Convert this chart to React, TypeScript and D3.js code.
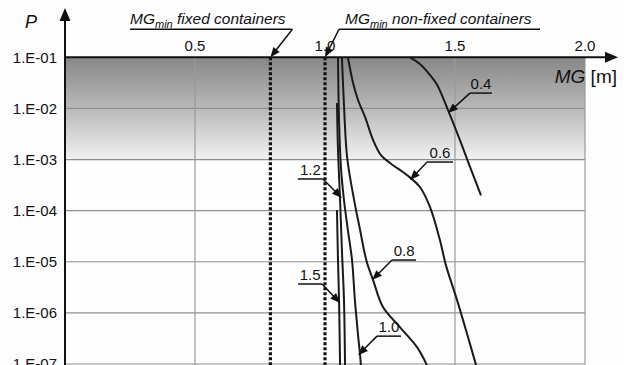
import React from 'react';
import * as d3 from 'd3';

const W = 624;
const H = 365;

// axis ticks
const yTicks = [1e-1, 1e-2, 1e-3, 1e-4, 1e-5, 1e-6, 1e-7];
const yTickLabels = ['1.E-01', '1.E-02', '1.E-03', '1.E-04', '1.E-05', '1.E-06', '1.E-07'];
const xTicks = [0.5, 1.0, 1.5, 2.0];
const xTickLabels = ['0.5', '1.0', '1.5', '2.0'];
const xGrid = [0.5, 1.5, 2.0];

// series (MG [m], P)
const mg04 = [1.327, 1.365, 1.404, 1.431, 1.473, 1.519, 1.558, 1.600];
const p04 = [1e-1, 7.4e-2, 4.5e-2, 2.9e-2, 9.3e-3, 2.4e-3, 7.1e-4, 2.0e-4];

const mg06 = [1.088, 1.108, 1.127, 1.154, 1.185, 1.215, 1.250, 1.315, 1.365, 1.404, 1.442, 1.465, 1.508, 1.550, 1.581];
const p06 = [1e-1, 3.14e-2, 1.46e-2, 6.8e-3, 2.41e-3, 1.22e-3, 8.55e-4, 4.98e-4, 2.9e-4, 1.17e-4, 2.66e-5, 8.6e-6, 1.78e-6, 3.36e-7, 9.5e-8];

const mg08 = [1.065, 1.073, 1.085, 1.112, 1.135, 1.150, 1.162, 1.185, 1.223, 1.288, 1.354, 1.392];
const p08 = [1e-1, 1.17e-2, 1.12e-3, 1.61e-4, 4.17e-5, 1.69e-5, 9.4e-6, 4.39e-6, 1.30e-6, 5.27e-7, 2.14e-7, 9.5e-8];

const mg10 = [1.050, 1.054, 1.062, 1.073, 1.088, 1.104, 1.115, 1.127, 1.135, 1.138];
const p10 = [1e-1, 5.9e-3, 6.2e-4, 1.61e-4, 4.17e-5, 1.08e-5, 1.78e-6, 3.7e-7, 1.49e-7, 9.5e-8];

const mg12 = [1.046, 1.050, 1.058, 1.065, 1.073, 1.077];
const p12 = [1.28e-2, 1.53e-3, 1.61e-4, 1.69e-5, 1.78e-6, 9.5e-8];

const mg15 = [1.046, 1.050, 1.054, 1.058];
const p15 = [1.03e-4, 1.08e-5, 1.78e-6, 9.5e-8];

const seriesMG = [mg04, mg06, mg08, mg10, mg12, mg15];
const seriesP = [p04, p06, p08, p10, p12, p15];
const seriesNames = ['0.4', '0.6', '0.8', '1.0', '1.2', '1.5'];

// label arrow tips (data units)
const labelTipMG = [1.473, 1.327, 1.181, 1.127, 1.065, 1.058];
const labelTipP = [8.1e-3, 3.97e-4, 4.39e-6, 1.49e-7, 1.77e-4, 1.56e-6];

// MG min lines
const mgMinFixed = 0.79;
const mgMinNonFixed = 1.0;

// layout (pixels)
const labelDX = [22, 17, 20, 19, -19, -18];
const labelDY = [-20, -18, -20, -19, -19, -19];
const labelLen = [22, 26, 24, 24, 25, 24];

const FONT = 'Liberation Sans, Arial, Helvetica, sans-serif';

function arrowParts(tx: number, ty: number, sx: number, sy: number, L = 10, w = 4) {
  const dx = tx - sx;
  const dy = ty - sy;
  const len = Math.sqrt(dx * dx + dy * dy);
  const ux = dx / len;
  const uy = dy / len;
  const nx = -uy;
  const ny = ux;
  const bx = tx - ux * L;
  const by = ty - uy * L;
  const head = `${tx},${ty} ${bx + nx * w},${by + ny * w} ${bx - nx * w},${by - ny * w}`;
  return { head, lx: tx - ux * L * 0.7, ly: ty - uy * L * 0.7 };
}

export default function App() {
  const x = d3.scaleLinear().domain([0, 2]).range([65, 585]);
  const y = d3.scaleLog().domain([1e-1, 1e-7]).range([57.3, 364]);
  const x0 = x(0);
  const yTop = y(1e-1);

  const line = d3
    .line<[number, number]>()
    .x((d) => x(d[0]))
    .y((d) => y(d[1]))
    .curve(d3.curveCatmullRom.alpha(0.5));

  const fixedTipX = x(mgMinFixed);
  const nonFixedTipX = x(mgMinNonFixed);
  const fixedArrow = arrowParts(fixedTipX, yTop, fixedTipX + 22, yTop - 28);
  const nonFixedArrow = arrowParts(nonFixedTipX, yTop, nonFixedTipX + 14, yTop - 28);

  return (
    <svg
      width={W}
      height={H}
      style={{ position: 'fixed', left: 0, top: 0, background: '#fdfdfd' }}
      fontFamily={FONT}
    >
      <defs>
        <linearGradient id="shade" x1="0" y1="0" x2="0" y2="1">
          <stop offset="0%" stopColor="#878787" />
          <stop offset="50%" stopColor="#b9b9b9" />
          <stop offset="100%" stopColor="#f1f1f1" />
        </linearGradient>
        <clipPath id="plot">
          <rect x={x0} y={yTop - 1} width={W - x0} height={H - yTop + 1} />
        </clipPath>
      </defs>
      <rect x={0} y={0} width={W} height={H} fill="#fdfdfd" />
      <rect x={x0} y={yTop} width={x(2) - x0} height={y(1e-3) - yTop} fill="url(#shade)" />

      {/* grid */}
      {yTicks.slice(1).map((t) => (
        <line key={'gy' + t} x1={x0} x2={x(2)} y1={y(t)} y2={y(t)} stroke="#8f8f8f" strokeWidth={1.2} />
      ))}
      {xGrid.map((t) => (
        <line key={'gx' + t} x1={x(t)} x2={x(t)} y1={yTop} y2={H} stroke="#9a9a9a" strokeWidth={1.2} />
      ))}

      {/* MG min dotted lines */}
      {[mgMinFixed, mgMinNonFixed].map((m) => (
        <line
          key={'mm' + m}
          x1={x(m)}
          x2={x(m)}
          y1={yTop}
          y2={H}
          stroke="#111"
          strokeWidth={3.2}
          strokeDasharray="3 2"
        />
      ))}

      {/* curves */}
      <g clipPath="url(#plot)">
        {seriesMG.map((mg, i) => {
          const pts: [number, number][] = mg.map((m, j) => [m, seriesP[i][j]]);
          return <path key={seriesNames[i]} d={line(pts) || ''} fill="none" stroke="#1a1a1a" strokeWidth={2} />;
        })}
      </g>

      {/* axes */}
      <line x1={x0} x2={x0} y1={H} y2={18} stroke="#111" strokeWidth={2} />
      <polygon points={`${x0},8 ${x0 - 5.5},21 ${x0 + 5.5},21`} fill="#111" />
      <line x1={x0} x2={607} y1={yTop} y2={yTop} stroke="#111" strokeWidth={2} />
      <polygon points={`618,${yTop} 605,${yTop - 5.5} 605,${yTop + 5.5}`} fill="#111" />

      {/* tick labels */}
      {yTicks.map((t, i) => (
        <text key={'yl' + t} x={57} y={y(t)} dy={5.3} textAnchor="end" fontSize={15} fill="#111">
          {yTickLabels[i]}
        </text>
      ))}
      {xTicks.map((t, i) => (
        <text key={'xl' + t} x={x(t)} y={51} textAnchor="middle" fontSize={15} fill="#111">
          {xTickLabels[i]}
        </text>
      ))}

      {/* axis titles */}
      <text x={25} y={28} fontSize={18} fontStyle="italic" fill="#111">P</text>
      <text x={617} y={83} fontSize={19} textAnchor="end" fill="#111">
        <tspan fontStyle="italic">MG</tspan> [m]
      </text>

      {/* MG min labels */}
      <text x={130} y={24} fontSize={15.5} fontStyle="italic" fill="#111">
        <tspan>MG</tspan>
        <tspan fontSize={11} dy={4}>min</tspan>
        <tspan dy={-4}> fixed containers</tspan>
      </text>
      <line x1={130} x2={fixedTipX + 22} y1={yTop - 28} y2={yTop - 28} stroke="#111" strokeWidth={1.5} />
      <line x1={fixedTipX + 22} y1={yTop - 28} x2={fixedArrow.lx} y2={fixedArrow.ly} stroke="#111" strokeWidth={1.5} />
      <polygon points={fixedArrow.head} fill="#111" />

      <text x={345} y={24} fontSize={15.5} fontStyle="italic" fill="#111">
        <tspan>MG</tspan>
        <tspan fontSize={11} dy={4}>min</tspan>
        <tspan dy={-4}> non-fixed containers</tspan>
      </text>
      <line x1={nonFixedTipX + 14} x2={540} y1={yTop - 28} y2={yTop - 28} stroke="#111" strokeWidth={1.5} />
      <line x1={nonFixedTipX + 14} y1={yTop - 28} x2={nonFixedArrow.lx} y2={nonFixedArrow.ly} stroke="#111" strokeWidth={1.5} />
      <polygon points={nonFixedArrow.head} fill="#111" />

      {/* series labels */}
      {seriesNames.map((name, i) => {
        const tx = x(labelTipMG[i]);
        const ty = y(labelTipP[i]);
        const sx = tx + labelDX[i];
        const sy = ty + labelDY[i];
        const ex = labelDX[i] > 0 ? sx + labelLen[i] : sx - labelLen[i];
        const a = arrowParts(tx, ty, sx, sy);
        return (
          <g key={'lab' + name}>
            <line x1={sx} x2={ex} y1={sy} y2={sy} stroke="#111" strokeWidth={1.5} />
            <line x1={sx} y1={sy} x2={a.lx} y2={a.ly} stroke="#111" strokeWidth={1.5} />
            <polygon points={a.head} fill="#111" />
            <text x={(sx + ex) / 2} y={sy - 4} textAnchor="middle" fontSize={15} fill="#111">
              {name}
            </text>
          </g>
        );
      })}
    </svg>
  );
}
